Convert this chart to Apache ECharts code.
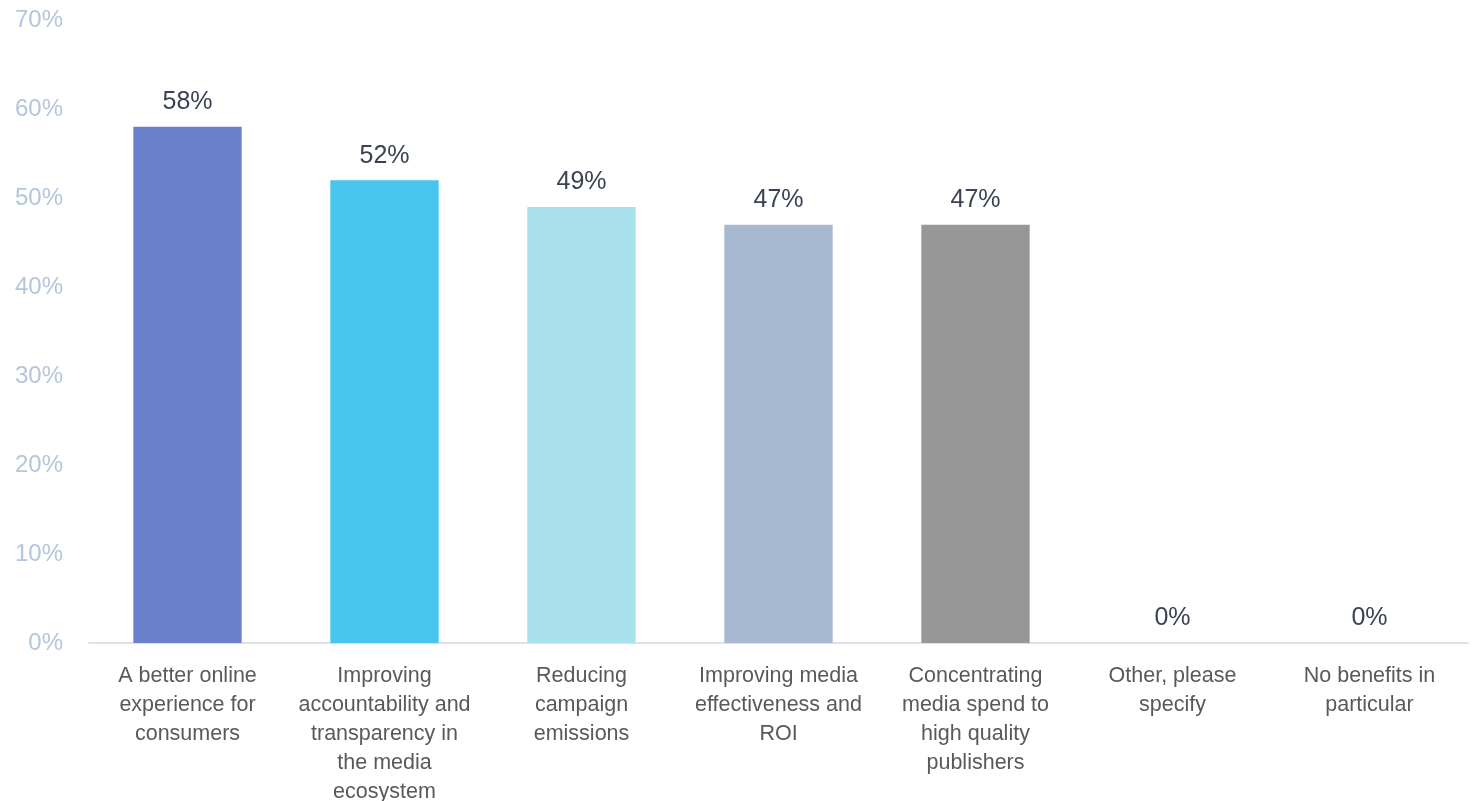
<!DOCTYPE html>
<html>
<head>
<meta charset="utf-8">
<script src="https://cdn.jsdelivr.net/npm/echarts@6/dist/echarts.min.js"></script>
<style>
  html, body { margin: 0; padding: 0; background: #ffffff; overflow: hidden; }
  #chart { width: 1473px; height: 801px; }
</style>
</head>
<body>
<div id="chart"></div>
<script>
// Benefit categories (line breaks as shown under the axis)
const categories = [
  'A better online\nexperience for\nconsumers',
  'Improving\naccountability and\ntransparency in\nthe media\necosystem',
  'Reducing\ncampaign\nemissions',
  'Improving media\neffectiveness and\nROI',
  'Concentrating\nmedia spend to\nhigh quality\npublishers',
  'Other, please\nspecify',
  'No benefits in\nparticular'
];
// Share of respondents, percent
const values = [58, 52, 49, 47, 47, 0, 0];
// One fill per bar
const barColors = ['#6a80cd', '#47c5ee', '#a8e0eb', '#a7b8d1', '#979797', '#979797', '#979797'];
// Value-axis range and step
const yMin = 0, yMax = 70, yStep = 10;

const chart = echarts.init(document.getElementById('chart'));
chart.setOption({
  animation: false,
  // fixed plot box; the tall category labels are allowed to run close to the edge
  grid: { left: 89, right: 5, top: 20, bottom: 158, containLabel: false, outerBoundsMode: 'none' },
  xAxis: {
    type: 'category',
    data: categories,
    axisLine: { show: true, lineStyle: { color: '#dde2ea', width: 2 } },
    axisTick: { show: false },
    axisLabel: {
      interval: 0,
      margin: 19,
      color: '#595959',
      fontFamily: 'Liberation Sans, Arial, sans-serif',
      fontSize: 21.5,
      lineHeight: 29
    }
  },
  yAxis: {
    type: 'value',
    min: yMin, max: yMax, interval: yStep,
    splitLine: { show: false },
    axisLine: { show: false },
    axisTick: { show: false },
    axisLabel: {
      formatter: '{value}%',
      color: '#b4c6dc',
      fontFamily: 'Liberation Sans, Arial, sans-serif',
      fontSize: 24,
      align: 'right',
      margin: 26
    }
  },
  series: [{
    type: 'bar',
    data: values.map((v, i) => ({ value: v, itemStyle: { color: barColors[i] } })),
    barWidth: '55%',
    label: {
      show: true,
      position: 'top',
      distance: 12,
      formatter: '{c}%',
      color: '#3a4354',
      fontFamily: 'Liberation Sans, Arial, sans-serif',
      fontSize: 25
    }
  }]
});
</script>
</body>
</html>
